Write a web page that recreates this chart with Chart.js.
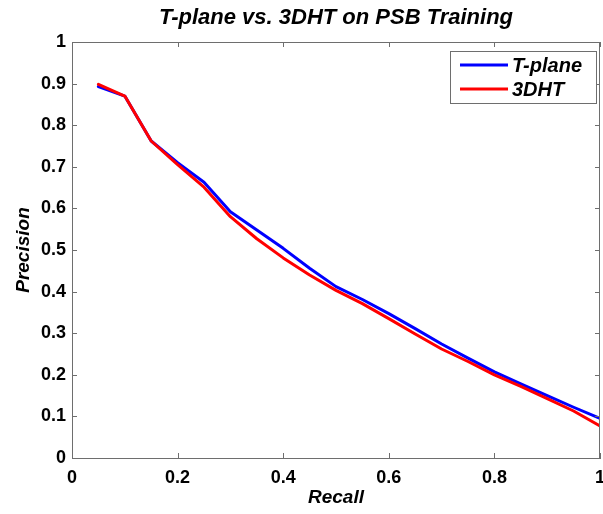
<!DOCTYPE html>
<html>
<head>
<meta charset="utf-8">
<script src="https://cdn.jsdelivr.net/npm/chart.js@4"></script>
<style>
  html, body { margin: 0; padding: 0; background: #fff; }
  #wrap { width: 603px; height: 514px; }
</style>
</head>
<body>
<div id="wrap"><canvas id="chart" width="603" height="514"></canvas></div>
<script>
// Precision / recall curves
const recall = [0.05, 0.10, 0.15, 0.20, 0.25, 0.30, 0.35, 0.40, 0.45, 0.50,
                0.55, 0.60, 0.65, 0.70, 0.75, 0.80, 0.85, 0.90, 0.95, 1.00];
const tplane = [0.893, 0.870, 0.762, 0.710, 0.663, 0.592, 0.548, 0.504, 0.456, 0.412,
                0.381, 0.347, 0.311, 0.274, 0.240, 0.207, 0.178, 0.150, 0.122, 0.095];
const dht3 = [0.898, 0.870, 0.762, 0.705, 0.651, 0.580, 0.527, 0.481, 0.440, 0.403,
              0.371, 0.335, 0.298, 0.262, 0.232, 0.200, 0.172, 0.143, 0.113, 0.077];
const xTicks = [0, 0.2, 0.4, 0.6, 0.8, 1];
const yTicks = [0, 0.1, 0.2, 0.3, 0.4, 0.5, 0.6, 0.7, 0.8, 0.9, 1];

const FONT = "'Liberation Sans', Arial, sans-serif";
const FRAME = '#6e6e6e';

// MATLAB-style box: full frame, inward ticks on all four sides, title, legend
const matlabBox = {
    id: 'matlabBox',
    afterDraw(chart) {
        const ctx = chart.ctx;
        const a = chart.chartArea;
        const xs = chart.scales.x, ys = chart.scales.y;
        const len = 5;
        ctx.save();
        ctx.strokeStyle = FRAME;
        ctx.lineWidth = 1;
        ctx.beginPath();
        xTicks.forEach(v => {
            const px = Math.round(xs.getPixelForValue(v)) + 0.5;
            ctx.moveTo(px, a.bottom); ctx.lineTo(px, a.bottom - len);
            ctx.moveTo(px, a.top); ctx.lineTo(px, a.top + len);
        });
        yTicks.forEach(v => {
            const py = Math.round(ys.getPixelForValue(v)) + 0.5;
            ctx.moveTo(a.left, py); ctx.lineTo(a.left + len, py);
            ctx.moveTo(a.right, py); ctx.lineTo(a.right - len, py);
        });
        ctx.stroke();
        ctx.strokeRect(Math.round(a.left) + 0.5, Math.round(a.top) + 0.5,
                       Math.round(a.right - a.left) - 1, Math.round(a.bottom - a.top));

        // title
        ctx.fillStyle = '#000';
        ctx.font = 'italic bold 22px ' + FONT;
        ctx.textAlign = 'center';
        ctx.textBaseline = 'middle';
        ctx.fillText('T-plane vs. 3DHT on PSB Training', (a.left + a.right) / 2, 18);

        // legend
        const bx = 450.5, by = 51.5, bw = 146, bh = 52;
        ctx.fillStyle = '#fff';
        ctx.fillRect(bx, by, bw, bh);
        ctx.strokeStyle = FRAME;
        ctx.strokeRect(bx, by, bw, bh);
        ctx.font = 'italic bold 20px ' + FONT;
        ctx.textAlign = 'left';
        chart.data.datasets.forEach((ds, i) => {
            const y = 65 + i * 24;
            ctx.strokeStyle = ds.borderColor;
            ctx.lineWidth = 3;
            ctx.beginPath();
            ctx.moveTo(460, y); ctx.lineTo(508, y);
            ctx.stroke();
            ctx.fillStyle = '#000';
            ctx.fillText(ds.label, 512, y + 1);
        });
        ctx.restore();
    }
};

const tickFont = { family: FONT, size: 18, weight: 'bold' };
const titleFont = { family: FONT, size: 19, weight: 'bold', style: 'italic' };

new Chart(document.getElementById('chart'), {
    type: 'line',
    data: {
        datasets: [
            { label: 'T-plane', data: recall.map((r, i) => ({ x: r, y: tplane[i] })),
              borderColor: '#0000ff', order: 1 },
            { label: '3DHT', data: recall.map((r, i) => ({ x: r, y: dht3[i] })),
              borderColor: '#ff0000', order: 0 }
        ]
    },
    options: {
        responsive: false,
        animation: false,
        layout: { padding: { top: 42, right: 3, left: 0, bottom: 0 } },
        elements: {
            line: { borderWidth: 3, tension: 0, fill: false, borderJoinStyle: 'round', borderCapStyle: 'round' },
            point: { radius: 0 }
        },
        plugins: {
            legend: { display: false },
            title: { display: false },
            tooltip: { enabled: false }
        },
        scales: {
            x: {
                type: 'linear', min: 0, max: 1,
                afterBuildTicks: s => { s.ticks = xTicks.map(v => ({ value: v })); },
                afterFit: s => {
                    s.height = 56;
                    s.paddingLeft = s.paddingRight = 0;
                },
                grid: { display: false, drawTicks: false },
                border: { display: true, color: FRAME },
                ticks: { font: tickFont, color: '#000', padding: 9, maxRotation: 0,
                         callback: v => String(v) },
                title: { display: true, text: 'Recall', font: titleFont, color: '#000',
                         padding: { top: 0, bottom: 5 } }
            },
            y: {
                type: 'linear', min: 0, max: 1,
                afterBuildTicks: s => { s.ticks = yTicks.map(v => ({ value: v })); },
                afterFit: s => {
                    s.width = 72;
                    s.paddingTop = s.paddingBottom = 0;
                },
                grid: { display: false, drawTicks: false },
                border: { display: true, color: FRAME },
                ticks: { font: tickFont, color: '#000', padding: 6,
                         callback: v => String(v) },
                title: { display: true, text: 'Precision', font: titleFont, color: '#000',
                         padding: { top: 12, bottom: 0 } }
            }
        }
    },
    plugins: [matlabBox]
});
</script>
</body>
</html>
